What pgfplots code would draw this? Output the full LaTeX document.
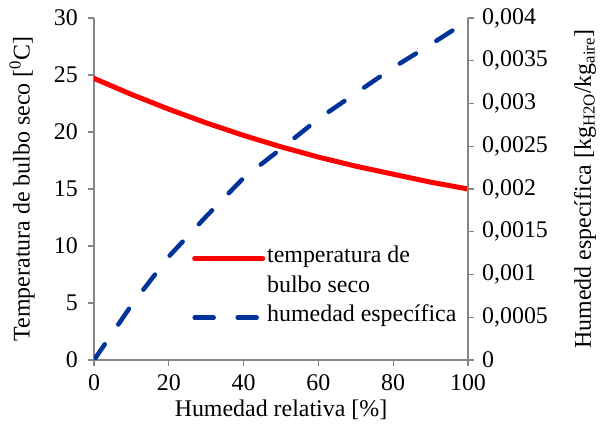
\documentclass[border=0pt]{standalone}
\usepackage{fontspec}
\setmainfont{Liberation Serif}
\usepackage{pgfplots}
\pgfplotsset{compat=1.18}
\definecolor{axgray}{RGB}{134,134,134}
\definecolor{hblue}{RGB}{0,51,153}
\begin{document}
\fontsize{24}{27}\selectfont
\begin{tikzpicture}
\pgfplotsset{
  common/.style={
    scale only axis, width=374bp, height=342bp,
    xmin=0, xmax=100,
    /pgf/number format/assume math mode=true,
    tick align=outside, major tick length=6bp,
    every tick/.style={axgray, line width=1.2bp},
    axis line style={axgray, line width=1.2bp},
    tick label style={font=\fontsize{24}{27}\selectfont, black},
    label style={font=\fontsize{24}{27}\selectfont},
  }
}
\begin{axis}[common,
  axis x line*=bottom, axis y line*=left,
  ymin=0, ymax=30, ytick={0,5,...,30},
  xtick={0,20,...,100},
  xlabel={Humedad relativa [\%]},
  ylabel={Temperatura de bulbo seco [\textsuperscript{0}C]},
  ylabel style={at={(axis description cs:-0.1925,0.5)}, rotate=0, anchor=center},
  xlabel style={at={(axis description cs:0.5,-0.146)}, anchor=center},
  yticklabel style={xshift=-2bp},
]
\coordinate (bl) at (rel axis cs:0,0);
\coordinate (tr) at (rel axis cs:1,1);
\addplot[red, line width=5bp, line cap=round] coordinates {
(0,24.7) (10,23.3) (20,22.0) (30,20.8) (40,19.7) (50,18.7) (60,17.8) (70,17.0) (80,16.3) (90,15.6) (100,15.0)
};
\end{axis}
\begin{axis}[common,
  axis x line=none, axis y line*=right,
  ymin=0, ymax=0.004, ytick={0,0.0005,...,0.004},
  scaled y ticks=false,
  yticklabel style={/pgf/number format/.cd, use comma, fixed, precision=4},
  ylabel={Humedd específica [kg\textsubscript{H2O}/kg\textsubscript{aire}]},
  ylabel style={at={(axis description cs:1.313,0.5)}, rotate=0, anchor=center},
  legend style={draw=none, fill=none, at={(0.262,0.34)}, anchor=north west,
    font=\fontsize{24}{27}\selectfont, row sep=0bp, inner sep=0pt,
    nodes={text height=17bp, text depth=8.5bp}},
  legend cell align=left,
  legend image code/.code={\draw[#1] (0bp,0bp) -- (68bp,0bp);},
]
\addlegendimage{red, line width=5bp, line cap=round}
\addlegendentry{temperatura de}
\addlegendimage{empty legend}
\addlegendentry{bulbo seco}
\addplot[hblue, line width=4.5bp, line cap=round, dash pattern=on 19bp off 24bp] coordinates {
(0,0) (10,0.00064) (20,0.00121) (30,0.00168) (40,0.00213) (50,0.00247) (60,0.00282) (70,0.00312) (80,0.00342) (90,0.00369) (100,0.00397)
};
\addlegendentry{humedad específica}
\end{axis}
\pgfresetboundingbox
\path ([shift={(-94bp,-69bp)}]bl) rectangle ([shift={(132bp,18bp)}]tr);
\end{tikzpicture}
\end{document}
